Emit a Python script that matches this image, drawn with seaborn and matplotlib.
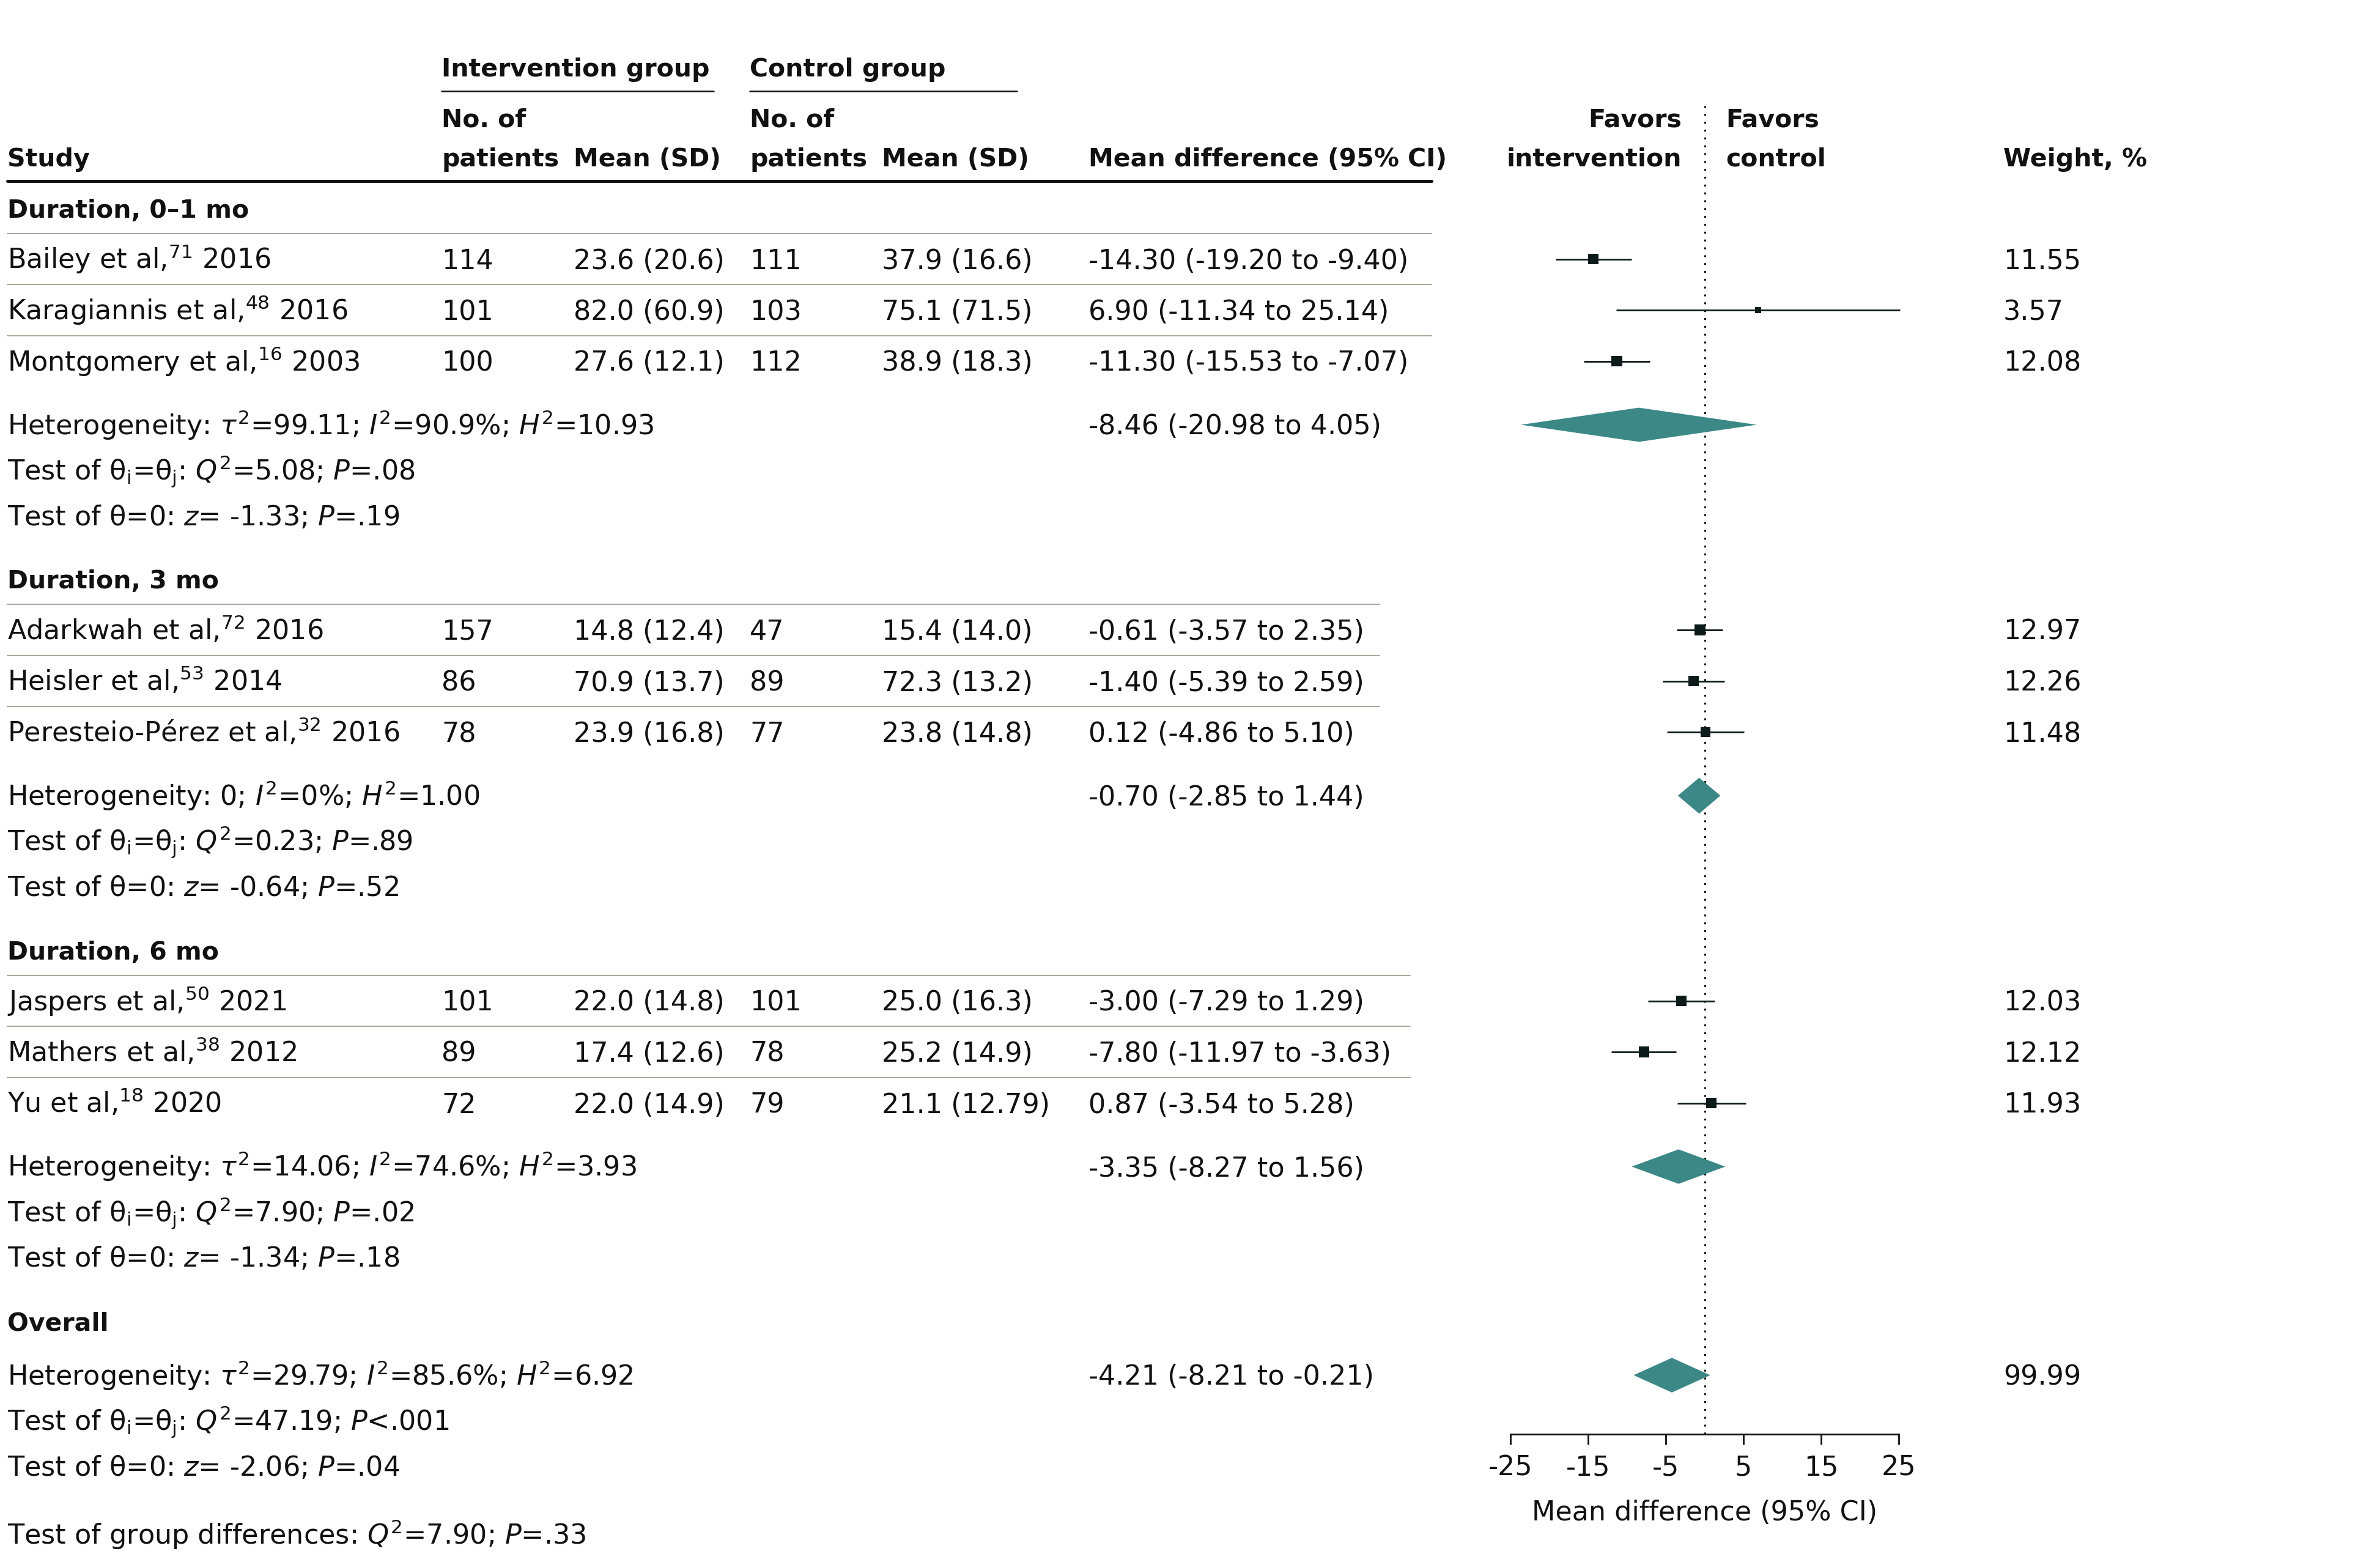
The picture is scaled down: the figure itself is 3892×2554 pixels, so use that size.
import matplotlib
matplotlib.use("Agg")
import matplotlib.pyplot as plt
import seaborn as sns
import pandas as pd

sns.set_theme(style="white")
plt.rcParams["font.family"] = ["DejaVu Sans"]
plt.rcParams["mathtext.fontset"] = "dejavusans"
plt.rcParams["axes.unicode_minus"] = False

# ---- data -------------------------------------------------------------
group_names = ["Duration, 0–1 mo", "Duration, 3 mo", "Duration, 6 mo"]

study_names = [
    r"Bailey et al,$^{71}$ 2016",
    r"Karagiannis et al,$^{48}$ 2016",
    r"Montgomery et al,$^{16}$ 2003",
    r"Adarkwah et al,$^{72}$ 2016",
    r"Heisler et al,$^{53}$ 2014",
    r"Peresteio-Pérez et al,$^{32}$ 2016",
    r"Jaspers et al,$^{50}$ 2021",
    r"Mathers et al,$^{38}$ 2012",
    r"Yu et al,$^{18}$ 2020",
]
study_group = [0, 0, 0, 1, 1, 1, 2, 2, 2]
n_int = [114, 101, 100, 157, 86, 78, 101, 89, 72]
mean_int = [23.6, 82.0, 27.6, 14.8, 70.9, 23.9, 22.0, 17.4, 22.0]
sd_int = [20.6, 60.9, 12.1, 12.4, 13.7, 16.8, 14.8, 12.6, 14.9]
n_ctrl = [111, 103, 112, 47, 89, 77, 101, 78, 79]
mean_ctrl = [37.9, 75.1, 38.9, 15.4, 72.3, 23.8, 25.0, 25.2, 21.1]
sd_ctrl = [16.6, 71.5, 18.3, 14.0, 13.2, 14.8, 16.3, 14.9, 12.79]
md = [-14.30, 6.90, -11.30, -0.61, -1.40, 0.12, -3.00, -7.80, 0.87]
md_lo = [-19.20, -11.34, -15.53, -3.57, -5.39, -4.86, -7.29, -11.97, -3.54]
md_hi = [-9.40, 25.14, -7.07, 2.35, 2.59, 5.10, 1.29, -3.63, 5.28]
weight = [11.55, 3.57, 12.08, 12.97, 12.26, 11.48, 12.03, 12.12, 11.93]

# pooled estimates: 3 subgroups + overall
pool_md = [-8.46, -0.70, -3.35, -4.21]
pool_lo = [-20.98, -2.85, -8.27, -8.21]
pool_hi = [4.05, 1.44, 1.56, -0.21]
pool_weight = [None, None, None, 99.99]
het_tau2 = ["99.11", None, "14.06", "29.79"]
het_i2 = ["90.9", "0", "74.6", "85.6"]
het_h2 = ["10.93", "1.00", "3.93", "6.92"]
q2 = ["5.08", "0.23", "7.90", "47.19"]
q_p = ["=.08", "=.89", "=.02", "<.001"]
z_val = ["-1.33", "-0.64", "-1.34", "-2.06"]
z_p = [".19", ".52", ".18", ".04"]
group_diff_q2 = "7.90"
group_diff_p = ".33"

# ---- layout (pixel units of the 3892 x 2554 canvas) --------------------
W, H = 3892, 2554
FS, FS_B = 32, 29.5
TXT = "#111111"
TEAL = "#3b8886"
MARK = "#0c1a1a"
RULE = "#a3a99b"
col_study, col_nint, col_mint, col_nctl, col_mctl, col_md, col_w = 12, 722, 938, 1226, 1442, 1780, 3276
rule_end = [2341, 2256, 2306]
ax_x0, ax_x1, ax_y = 2470, 3105, 2345

fig = plt.figure(figsize=(W / 100, H / 100), dpi=100)
bg = fig.add_axes([0, 0, 1, 1])
bg.set_xlim(0, W)
bg.set_ylim(H, 0)
bg.axis("off")


def put(x, y, s, bold=False, ha="left"):
    bg.text(x, y + 16, s, fontsize=FS_B if bold else FS, fontweight="bold" if bold else "normal",
            ha=ha, va="baseline", color=TXT)


def fmt(v):
    s = f"{v:.2f}"
    return s[:-1] if s.endswith("0") else s


# header
put(col_nint, 109, "Intervention group", bold=True)
put(col_nctl, 109, "Control group", bold=True)
bg.plot([col_nint, 1167], [149, 149], color=TXT, lw=1.8)
bg.plot([col_nctl, 1663], [149, 149], color=TXT, lw=1.8)
put(col_nint, 191, "No. of", bold=True)
put(col_nctl, 191, "No. of", bold=True)
put(col_study, 256, "Study", bold=True)
put(col_nint, 256, "patients", bold=True)
put(col_mint, 256, "Mean (SD)", bold=True)
put(col_nctl, 256, "patients", bold=True)
put(col_mctl, 256, "Mean (SD)", bold=True)
put(col_md, 256, "Mean difference (95% CI)", bold=True)
put(2750, 191, "Favors", bold=True, ha="right")
put(2750, 256, "intervention", bold=True, ha="right")
put(2822, 191, "Favors", bold=True)
put(2822, 256, "control", bold=True)
put(col_w, 256, "Weight, %", bold=True)
bg.plot([col_study, 2341], [296, 296], color=TXT, lw=3.6)

# rows
study_y = []
pool_y = []
y = 340
for g in range(4):
    put(col_study, y, group_names[g] if g < 3 else "Overall", bold=True)
    rows = [y]
    if g < 3:
        idx = [i for i, sg in enumerate(study_group) if sg == g]
        for i in idx:
            y += 83.5
            rows.append(y)
            study_y.append(y)
            put(col_study, y, study_names[i])
            put(col_nint, y, str(n_int[i]))
            put(col_mint, y, f"{mean_int[i]:.1f} ({fmt(sd_int[i])})")
            put(col_nctl, y, str(n_ctrl[i]))
            put(col_mctl, y, f"{mean_ctrl[i]:.1f} ({fmt(sd_ctrl[i])})")
            put(col_md, y, f"{md[i]:.2f} ({md_lo[i]:.2f} to {md_hi[i]:.2f})")
            put(col_w, y, f"{weight[i]:.2f}")
        for a, b in zip(rows[:-1], rows[1:]):
            yy = (a + b) / 2
            bg.plot([col_study, rule_end[g]], [yy, yy], color=RULE, lw=1.4)
        y += 104
    else:
        y += 89
    pool_y.append(y)
    tau = rf"$\tau^2$={het_tau2[g]}; " if het_tau2[g] else "0; "
    put(col_study, y, rf"Heterogeneity: {tau}$I^2$={het_i2[g]}%; $H^2$={het_h2[g]}")
    put(col_md, y, f"{pool_md[g]:.2f} ({pool_lo[g]:.2f} to {pool_hi[g]:.2f})")
    if pool_weight[g] is not None:
        put(col_w, y, f"{pool_weight[g]:.2f}")
    y += 74
    put(col_study, y, rf"Test of θ$_\mathrm{{i}}$=θ$_\mathrm{{j}}$: $Q^2$={q2[g]}; $P${q_p[g]}")
    y += 74
    put(col_study, y, rf"Test of θ=0: $z$= {z_val[g]}; $P$={z_p[g]}")
    y += 104
put(col_study, y + 8, rf"Test of group differences: $Q^2$={group_diff_q2}; $P$={group_diff_p}")

# ---- forest panel --------------------------------------------------------
px_per_unit = (ax_x1 - ax_x0) / 50
left = ax_x0 - 0.5 * px_per_unit
ax = fig.add_axes([left / W, (H - ax_y) / H, 51 * px_per_unit / W, ax_y / H])
ax.set_xlim(-25.5, 25.5)
ax.set_ylim(ax_y, 0)
ax.patch.set_alpha(0)
for s in ["left", "right", "top"]:
    ax.spines[s].set_visible(False)
ax.spines["bottom"].set_bounds(-25, 25)
ax.spines["bottom"].set_linewidth(2)
ax.spines["bottom"].set_color(TXT)
ax.set_yticks([])
ax.set_xticks([-25, -15, -5, 5, 15, 25])
ax.tick_params(axis="x", bottom=True, direction="out", length=12, width=2, pad=12,
               labelsize=FS, colors=TXT)

ax.vlines(0, 173, ax_y, color=TXT, lw=2.2, linestyles=(0, (1, 3.2)))

df = pd.DataFrame({"md": md, "lo": md_lo, "hi": md_hi, "w": weight, "y": study_y})
ax.hlines(df["y"], df["lo"], df["hi"], color=MARK, lw=2.0, zorder=2)
sns.scatterplot(data=df, x="md", y="y", size="w", sizes=(55, 165), marker="s",
                color=MARK, linewidth=0, legend=False, ax=ax, zorder=3)
ax.set_xlabel("Mean difference (95% CI)", fontsize=FS, color=TXT, labelpad=22)
ax.set_ylabel("")

half = 23
for est, lo, hi, yy in zip(pool_md, pool_lo, pool_hi, pool_y):
    ax.fill([lo, est, hi, est], [yy, yy - half, yy, yy + half], facecolor=TEAL,
            edgecolor=TEAL, lw=7, joinstyle="miter", zorder=3)

fig.savefig("out.png", dpi=100)
